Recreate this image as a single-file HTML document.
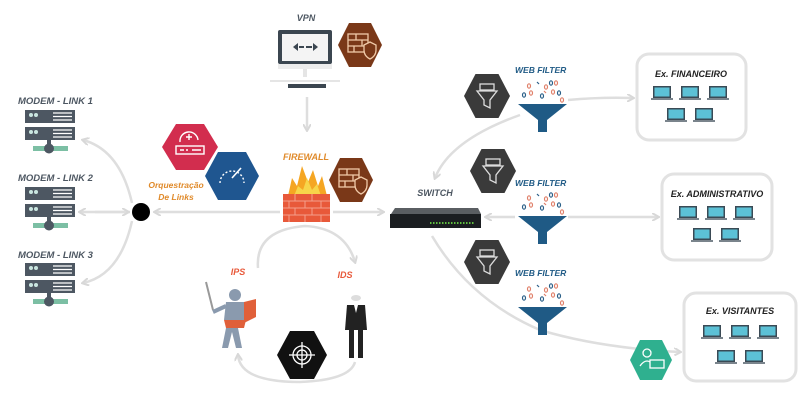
<!DOCTYPE html>
<html><head><meta charset="utf-8"><style>
body{margin:0;background:#fff;}
svg{display:block;}
text{font-family:"Liberation Sans",sans-serif;font-weight:bold;font-style:italic;}
</style></head><body>
<svg width="800" height="400" viewBox="0 0 800 400" xmlns="http://www.w3.org/2000/svg">
<defs>
<marker id="a" markerWidth="8" markerHeight="8" refX="6" refY="4" orient="auto" markerUnits="userSpaceOnUse"><path d="M0,0 L7,4 L0,8" fill="none" stroke="#d8d8d8" stroke-width="2"/></marker>
<g id="srv">
<rect x="0" y="0" width="50" height="13" fill="#4d5762"/>
<rect x="0" y="17" width="50" height="13" fill="#4d5762"/>
<circle cx="6" cy="5" r="2" fill="#c9e6e0"/><circle cx="11" cy="5" r="2" fill="#c9e6e0"/>
<circle cx="6" cy="22" r="2" fill="#c9e6e0"/><circle cx="11" cy="22" r="2" fill="#c9e6e0"/>
<path d="M28 3h19M28 6.5h19M28 10h19M28 20h19M28 23.5h19M28 27h19" stroke="#fff" stroke-width="1.3"/>
<rect x="22" y="30" width="4" height="8" fill="#4d5762"/>
<rect x="8" y="36" width="35" height="5" fill="#7cbfa4"/>
<circle cx="24" cy="38.5" r="5" fill="#4d5762"/>
</g>
<g id="lap"><rect x="0" y="0" width="18" height="12" fill="#3a4a55"/><rect x="1.5" y="1.5" width="15" height="9" fill="#5cc1d6"/><rect x="-2" y="12" width="22" height="2" fill="#7a848c"/></g>
<g id="fun">
<path d="M0 0h49l-20 16v12h-9v-12z" fill="#1f5a85"/>
<g fill="none" stroke-width="1.2">
<ellipse cx="11" cy="-18" rx="1.5" ry="2.2" stroke="#e0806a"/><path d="M19,-22 l2,2" stroke="#2a5f88"/>
<ellipse cx="28" cy="-17" rx="1.5" ry="2.2" stroke="#e0806a"/><ellipse cx="33" cy="-21" rx="1.5" ry="2.2" stroke="#2a5f88"/>
<ellipse cx="6" cy="-9" rx="1.5" ry="2.2" stroke="#2a5f88"/><ellipse cx="13" cy="-11" rx="1.5" ry="2.2" stroke="#e0806a"/>
<ellipse cx="24" cy="-8" rx="1.5" ry="2.2" stroke="#2a5f88"/><ellipse cx="35" cy="-12" rx="1.5" ry="2.2" stroke="#e0806a"/>
<ellipse cx="41" cy="-11" rx="1.5" ry="2.2" stroke="#2a5f88"/><ellipse cx="44" cy="-4" rx="1.5" ry="2.2" stroke="#e0806a"/>
<ellipse cx="38" cy="-21" rx="1.5" ry="2.2" stroke="#e0806a"/><path d="M26,-13 l2,2" stroke="#e0806a"/>
</g></g>
<g id="dhex"><polygon points="-23,0 -11.5,-22 11.5,-22 23,0 11.5,22 -11.5,22" fill="#3a3a3a"/>
<g fill="none" stroke="#ddd" stroke-width="1.3"><rect x="-7" y="-12" width="14" height="6"/><path d="M-10,-5 h20 l-7,9 v8 l-6,-3 v-5z"/></g></g>
<g id="bhex"><polygon points="-22,0 -11,-22 11,-22 22,0 11,22 -11,22" fill="#7a3818"/>
<g fill="none" stroke="#f0c9a8" stroke-width="1.3"><rect x="-12" y="-11" width="20" height="18"/><path d="M-12,-5h20M-12,1h20M-4,-11v6M2,-5v6M-6,1v6"/><path d="M4,0 l6,-3 6,3 v5 q0,6 -6,9 q-6,-3 -6,-9z" fill="#7a3818"/></g></g>
</defs>

<!-- connectors -->
<g fill="none" stroke="#dedede" stroke-width="2.5">
<path d="M132,203 Q120,150 83,140" marker-end="url(#a)"/>
<path d="M130,212 H80" marker-end="url(#a)"/>
<path d="M95,212 H128" marker-end="url(#a)"/>
<path d="M132,221 Q120,275 83,283" marker-end="url(#a)"/>
<path d="M280,212 H155" marker-end="url(#a)"/>
<path d="M333,212 H383" marker-end="url(#a)"/>
<path d="M307,97 V130" marker-end="url(#a)"/>
<path d="M258,268 Q255,230 305,226 Q345,228 355,262" marker-end="url(#a)"/>
<path d="M355,362 Q350,380 300,382 Q240,382 238,355" marker-end="url(#a)"/>
<path d="M520,115 Q450,140 435,178" marker-end="url(#a)"/>
<path d="M568,100 Q600,97 633,98" marker-end="url(#a)"/>
<path d="M515,217 H486" marker-end="url(#a)"/>
<path d="M568,217 H658" marker-end="url(#a)"/>
<path d="M432,236 Q470,300 540,330 Q600,348 680,352" marker-end="url(#a)"/>
</g>

<!-- modems -->
<g fill="#4d5762" font-size="9.5">
<text x="18" y="104">MODEM - LINK 1</text>
<text x="18" y="181">MODEM - LINK 2</text>
<text x="18" y="258">MODEM - LINK 3</text>
</g>
<use href="#srv" x="25" y="110"/>
<use href="#srv" x="25" y="187"/>
<use href="#srv" x="25" y="263"/>
<circle cx="141" cy="212" r="9" fill="#000"/>

<!-- orchestration -->
<polygon points="162,147 176,124 204,124 218,147 204,170 176,170" fill="#d22d4e"/>
<g fill="none" stroke="#fff" stroke-width="1.4"><rect x="176" y="146" width="28" height="8"/><path d="M180,150h4M186,150h2M192,150h9"/><path d="M180,142 a9,9 0 1 1 18,-2"/><path d="M186,137h6M189,134v6"/></g>
<polygon points="205,176 218,152 246,152 259,176 246,200 218,200" fill="#1f5690"/>
<g fill="none" stroke="#fff" stroke-width="1.4" stroke-dasharray="2 2"><path d="M220,183 a12,12 0 1 1 24,0"/></g>
<path d="M232,178 L241,168" stroke="#fff" stroke-width="1.6"/>
<text x="176" y="188" font-size="8.5" fill="#e08a2a" text-anchor="middle">Orquestração</text>
<text x="176" y="200" font-size="8.5" fill="#e08a2a" text-anchor="middle">De Links</text>

<!-- VPN -->
<text x="306" y="21" font-size="9" fill="#4d5762" text-anchor="middle">VPN</text>
<rect x="278" y="30" width="54" height="34" rx="2" fill="#3b4650"/>
<rect x="282" y="34" width="46" height="27" fill="#f4f4f4"/>
<rect x="278" y="64" width="54" height="5" fill="#ececec"/>
<rect x="303" y="69" width="4" height="8" fill="#e5e5e5"/>
<rect x="270" y="80" width="70" height="2" fill="#e5e5e5"/>
<rect x="288" y="84" width="38" height="4" fill="#3b4650"/>
<path d="M293,47 l5,-4 v8z M299,46h5v2h-5z M318,47 l-5,-4 v8z M306,46h6v2h-6z" fill="#3b4650"/>
<use href="#bhex" x="360" y="45"/>

<!-- firewall -->
<text x="306" y="160" font-size="9" fill="#e08a2a" text-anchor="middle">FIREWALL</text>
<path d="M288,196 L292,178 L297,186 L302,166 L308,182 L313,170 L318,186 L322,176 L327,196z" fill="#f5a623"/>
<path d="M294,196 L298,186 L303,190 L307,178 L312,190 L317,184 L321,196z" fill="#f7d54a"/>
<rect x="283" y="194" width="47" height="28" fill="#e8593a"/>
<path d="M283,201h47M283,208h47M283,215h47M295,194v7M312,194v7M289,201v7M305,201v7M321,201v7M295,208v7M312,208v7M289,215v7M305,215v7M321,215v7" stroke="#f4a08c" stroke-width="1"/>
<use href="#bhex" x="351" y="180"/>

<!-- switch -->
<text x="435" y="196" font-size="9" fill="#4d5762" text-anchor="middle">SWITCH</text>
<path d="M395,208 L478,208 L481,214 L391,214z" fill="#5a5e62"/>
<rect x="390" y="214" width="91" height="14" fill="#1b1e21"/>
<path d="M430,223h44" stroke="#5fbf3f" stroke-width="2" stroke-dasharray="1.5 1.5"/>

<!-- IPS / IDS -->
<text x="238" y="275" font-size="9" fill="#e8593a" text-anchor="middle">IPS</text>
<text x="345" y="278" font-size="9" fill="#e8593a" text-anchor="middle">IDS</text>
<path d="M206,282 L213,310" stroke="#999" stroke-width="2"/>
<circle cx="235" cy="295" r="6" fill="#8a9aae"/>
<path d="M226,302h18l2,18h-22z" fill="#8a9aae"/>
<path d="M224,320h22l-2,8h-18z" fill="#e0603a"/>
<path d="M226,328l-4,20h6l4,-16 4,16h6l-4,-20z" fill="#8a9aae"/>
<path d="M213,312 L226,306" stroke="#8a9aae" stroke-width="4"/>
<path d="M244,302 l12,-3 v18 l-12,6z" fill="#e0603a"/>
<ellipse cx="356" cy="298" rx="5" ry="3" fill="#ddd"/>
<path d="M347,305h18l2,25h-22z" fill="#222"/>
<path d="M354,305l2,8 2,-8z" fill="#fff"/>
<path d="M349,330h5v28h-5zM358,330h5v28h-5z" fill="#222"/>
<polygon points="277,355 290,331 314,331 327,355 314,379 290,379" fill="#111"/>
<g fill="none" stroke="#fff" stroke-width="1.3"><circle cx="302" cy="355" r="9"/><circle cx="302" cy="355" r="5"/><path d="M302,342v26M289,355h26"/></g>

<!-- web filters -->
<use href="#dhex" x="487" y="96"/>
<use href="#dhex" x="493" y="171"/>
<use href="#dhex" x="487" y="262"/>
<g font-size="8.5" fill="#1f5a85">
<text x="515" y="73">WEB FILTER</text>
<text x="515" y="186">WEB FILTER</text>
<text x="515" y="276">WEB FILTER</text>
</g>
<use href="#fun" x="518" y="104"/>
<use href="#fun" x="518" y="216"/>
<use href="#fun" x="518" y="307"/>

<!-- boxes -->
<g fill="#fff" stroke="#e2e2e2" stroke-width="3">
<rect x="637" y="54" width="109" height="86" rx="12"/>
<rect x="662" y="174" width="110" height="86" rx="12"/>
<rect x="684" y="293" width="112" height="88" rx="12"/>
</g>
<g font-size="9" fill="#222" text-anchor="middle">
<text x="691" y="77">Ex. FINANCEIRO</text>
<text x="717" y="197">Ex. ADMINISTRATIVO</text>
<text x="740" y="314">Ex. VISITANTES</text>
</g>
<use href="#lap" x="653" y="86"/><use href="#lap" x="681" y="86"/><use href="#lap" x="709" y="86"/>
<use href="#lap" x="667" y="108"/><use href="#lap" x="695" y="108"/>
<use href="#lap" x="679" y="206"/><use href="#lap" x="707" y="206"/><use href="#lap" x="735" y="206"/>
<use href="#lap" x="693" y="228"/><use href="#lap" x="721" y="228"/>
<use href="#lap" x="703" y="325"/><use href="#lap" x="731" y="325"/><use href="#lap" x="759" y="325"/>
<use href="#lap" x="717" y="350"/><use href="#lap" x="745" y="350"/>
<polygon points="630,360 640,340 662,340 672,360 662,380 640,380" fill="#2fb08f"/>
<g fill="none" stroke="#fff" stroke-width="1.3"><circle cx="647" cy="353" r="4"/><path d="M640,366 q7,-10 14,0"/><rect x="650" y="360" width="14" height="8" fill="#2fb08f"/></g>
</svg>
</body></html>
